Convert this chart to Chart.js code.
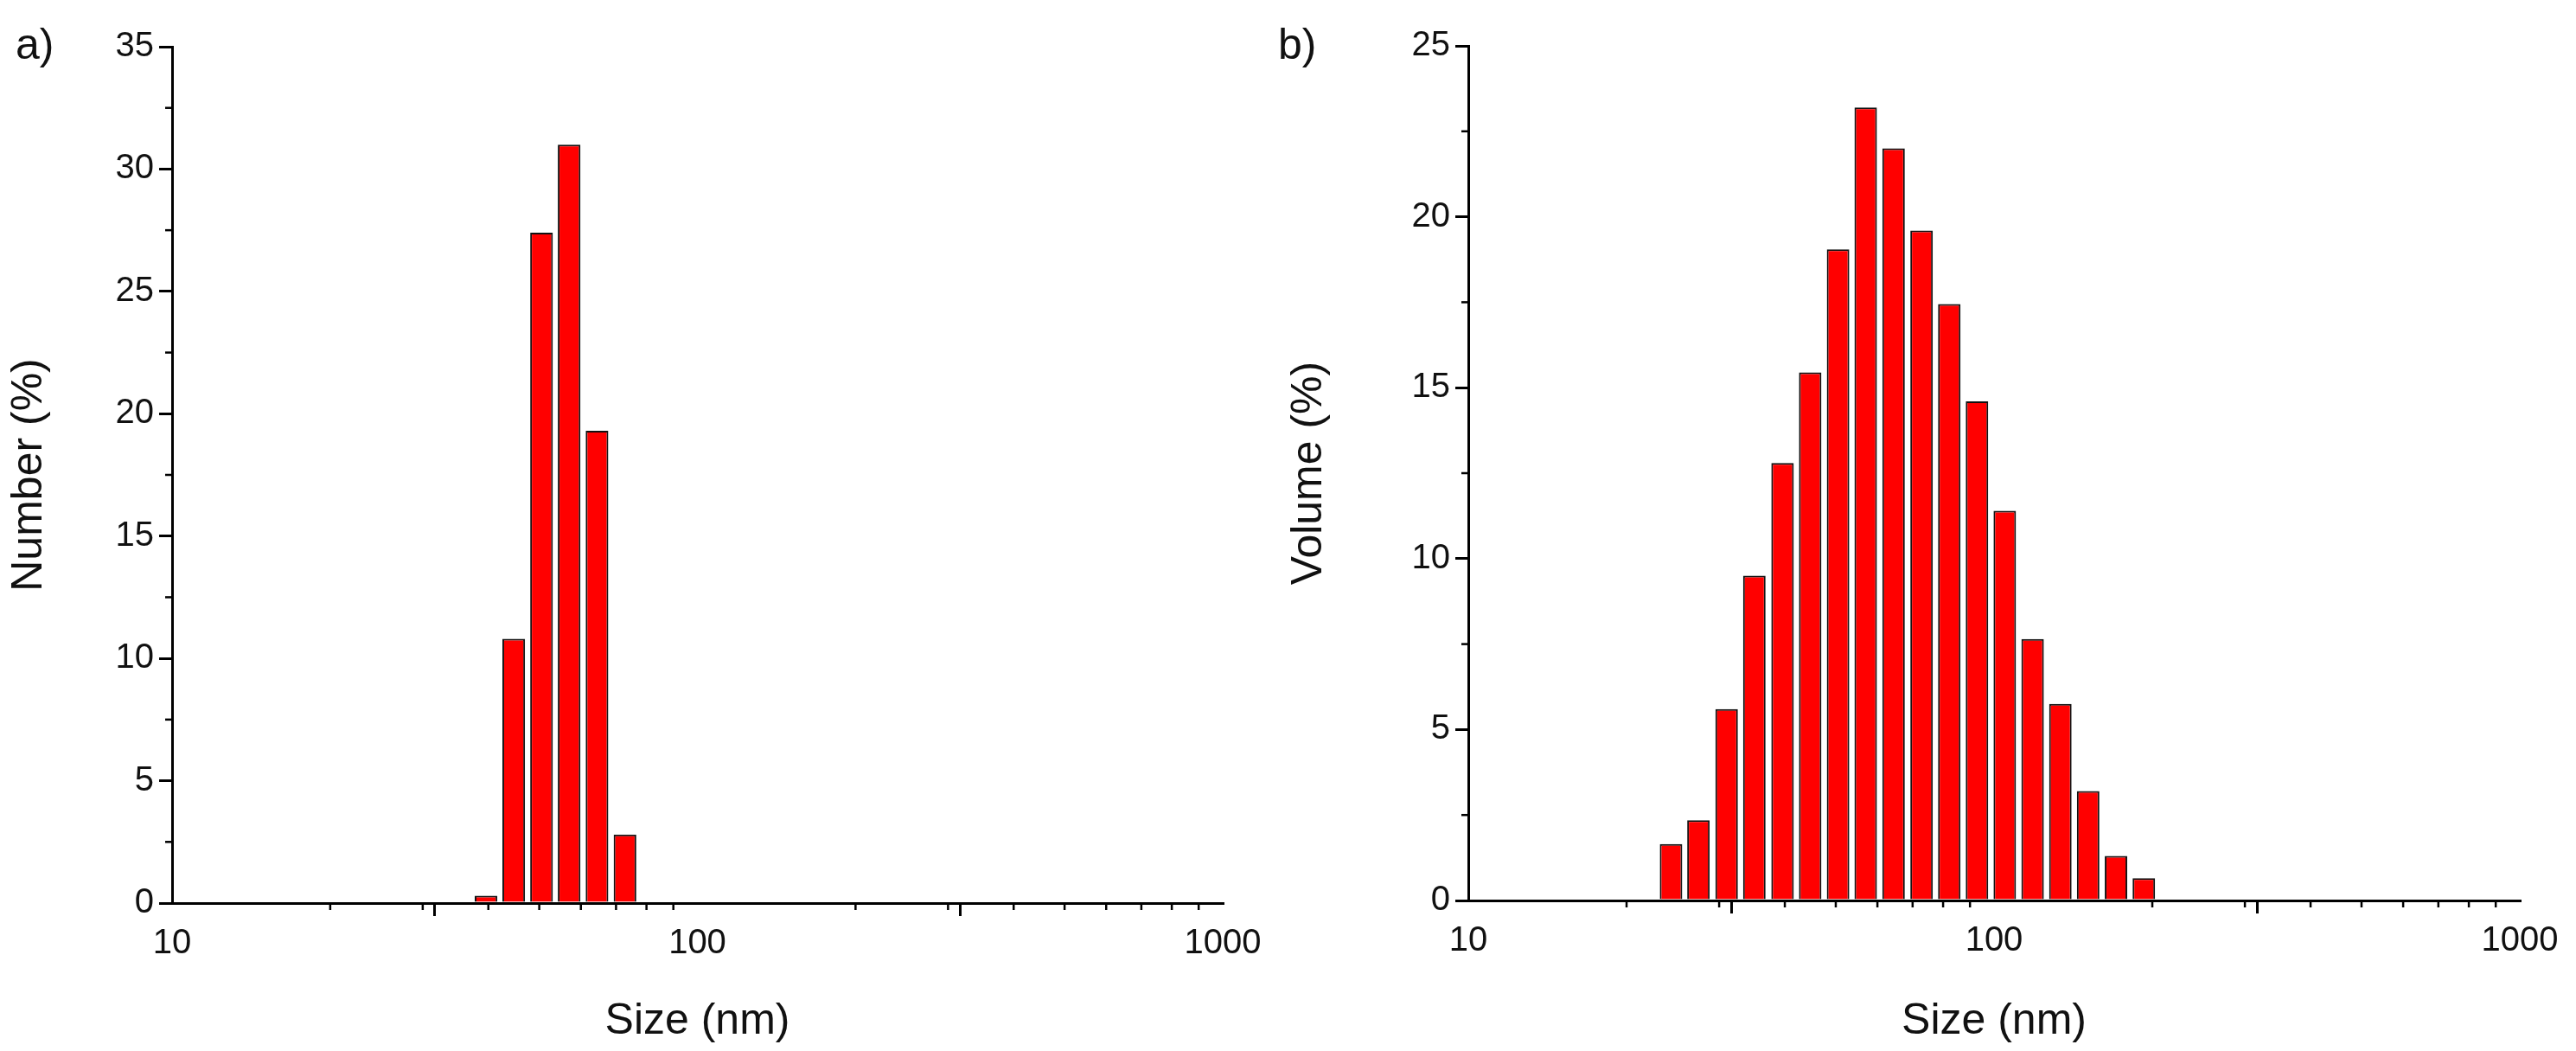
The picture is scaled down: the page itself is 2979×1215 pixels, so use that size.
<!DOCTYPE html>
<html><head><meta charset="utf-8">
<script src="https://cdn.jsdelivr.net/npm/chart.js@4"></script>
<style>
html,body{margin:0;padding:0;background:#fff;width:2979px;height:1215px;overflow:hidden;font-family:"Liberation Sans",Arial,sans-serif}
.box{position:absolute;top:0;height:1215px}
.lab{position:absolute;font-size:50px;color:#111}
</style></head><body>
<div class="box" style="left:0;width:1480px"><canvas id="c1"></canvas></div>
<div class="box" style="left:1480px;width:1499px"><canvas id="c2"></canvas></div>
<div class="lab" style="left:18px;top:22px">a)</div>
<div class="lab" style="left:1478px;top:22px">b)</div>
<script>
const sizesA = [39.6, 44.7, 50.5, 57.0, 64.4, 72.8];
const numberPct = [0.3, 10.8, 27.4, 31.0, 19.3, 2.8];
const sizesB = [24.3, 27.4, 31.0, 35.0, 39.6, 44.7, 50.5, 57.0, 64.4, 72.8, 82.2, 92.8, 104.8, 118.4, 133.7, 151.0, 170.6, 192.7];
const volumePct = [1.65, 2.35, 5.6, 9.5, 12.8, 15.45, 19.05, 23.2, 22.0, 19.6, 17.45, 14.6, 11.4, 7.65, 5.75, 3.2, 1.3, 0.65];
const xTicks = [10, 100, 1000];
const yTicksA = [0, 5, 10, 15, 20, 25, 30, 35];
const yTicksB = [0, 5, 10, 15, 20, 25];

const minorPlugin = {
  id: 'minor',
  afterDraw(chart, args, opts) {
    const ctx = chart.ctx, x = chart.scales.x, y = chart.scales.y;
    ctx.save(); ctx.strokeStyle = '#000'; ctx.lineWidth = 2.5;
    for (let d = 10; d < 1000; d *= 10) for (let m = 2; m <= 9; m++) {
      const px = x.getPixelForValue(d * m);
      ctx.beginPath(); ctx.moveTo(px, y.bottom); ctx.lineTo(px, y.bottom + 8); ctx.stroke();
    }
    for (let v = opts.step / 2; v < y.max; v += opts.step) {
      const py = y.getPixelForValue(v);
      ctx.beginPath(); ctx.moveTo(x.left, py); ctx.lineTo(x.left - 8, py); ctx.stroke();
    }
    ctx.restore();
  }
};

function make(id, xs, ys, yTicks, yTitle, pad, yW, xH) {
  const fontT = {family: '"Liberation Sans", Arial, sans-serif', size: 40};
  const fontTitle = {family: '"Liberation Sans", Arial, sans-serif', size: 50};
  new Chart(document.getElementById(id), {
    type: 'bar',
    data: { datasets: [{ data: xs.map((s, i) => ({x: s, y: ys[i]})), backgroundColor: '#ff0000',
      borderColor: '#111', borderWidth: 2, borderSkipped: 'bottom', barPercentage: 0.82, categoryPercentage: 1 }] },
    options: {
      responsive: true, maintainAspectRatio: false, animation: false,
      layout: { padding: pad },
      plugins: { legend: {display: false}, tooltip: {enabled: false}, minor: {step: 5} },
      scales: {
        x: { type: 'logarithmic', min: 10, max: 1000, offset: false,
          afterBuildTicks: s => { s.ticks = xTicks.map(v => ({value: v})); },
          afterFit: s => { s.height = xH; },
          ticks: { color: '#111', font: fontT, padding: 8, maxRotation: 0, callback: v => String(v) },
          grid: { drawOnChartArea: false, color: '#000', lineWidth: 3, tickLength: 15 },
          border: { color: '#000', width: 3 },
          title: { display: true, text: 'Size (nm)', color: '#111', font: fontTitle, padding: {top: 20} } },
        y: { min: 0, max: yTicks[yTicks.length - 1],
          afterBuildTicks: s => { s.ticks = yTicks.map(v => ({value: v})); },
          afterFit: s => { s.width = yW; },
          ticks: { color: '#111', font: fontT, padding: 6 },
          grid: { drawOnChartArea: false, color: '#000', lineWidth: 3, tickLength: 15 },
          border: { color: '#000', width: 3 },
          title: { display: true, text: yTitle, color: '#111', font: fontTitle, padding: {bottom: 10} } }
      }
    },
    plugins: [minorPlugin]
  });
}
make('c1', sizesA, numberPct, yTicksA, 'Number (%)', {top: 54, right: 66, left: 0, bottom: 0}, 199, 171);
make('c2', sizesB, volumePct, yTicksB, 'Volume (%)', {top: 53, right: 65, left: 0, bottom: 0}, 218, 174);
</script></body></html>
